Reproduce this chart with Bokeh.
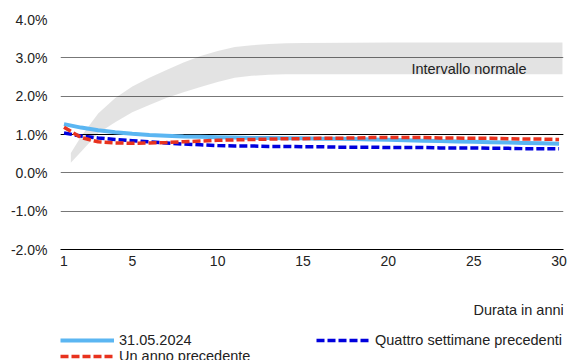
from bokeh.plotting import figure
from bokeh.layouts import column
from bokeh.models import (Range1d, Label, Legend, LegendItem, Span, FixedTicker,
                          CustomJSTickFormatter)
from bokeh.embed import file_html
from bokeh.resources import INLINE

# ---- data ----
years = list(range(1, 31))
curve_current = [1.27, 1.18, 1.11, 1.06, 1.02, 0.99, 0.97, 0.95, 0.94, 0.93,
                 0.92, 0.91, 0.91, 0.90, 0.90, 0.89, 0.89, 0.88, 0.87, 0.86,
                 0.85, 0.84, 0.83, 0.82, 0.81, 0.80, 0.79, 0.78, 0.77, 0.76]
curve_4weeks = [1.04, 0.96, 0.91, 0.87, 0.84, 0.81, 0.78, 0.75, 0.73, 0.71,
                0.70, 0.70, 0.69, 0.69, 0.68, 0.68, 0.67, 0.67, 0.67, 0.66,
                0.66, 0.66, 0.65, 0.65, 0.65, 0.64, 0.64, 0.63, 0.63, 0.63]
curve_1year = [1.19, 0.92, 0.81, 0.78, 0.77, 0.78, 0.79, 0.81, 0.83, 0.85,
               0.86, 0.87, 0.88, 0.89, 0.89, 0.90, 0.90, 0.91, 0.92, 0.92,
               0.92, 0.92, 0.91, 0.91, 0.90, 0.90, 0.89, 0.88, 0.88, 0.87]

band_years = [1.4, 2, 3, 4, 5, 6, 7, 8, 9, 10, 11, 12, 13, 14, 15, 20, 25, 30.2]
band_upper = [0.52, 0.95, 1.55, 1.95, 2.25, 2.48, 2.68, 2.88, 3.05, 3.18,
              3.28, 3.33, 3.36, 3.38, 3.39, 3.40, 3.40, 3.40]
band_lower = [0.26, 0.55, 1.03, 1.32, 1.58, 1.77, 1.95, 2.10, 2.24, 2.37,
              2.48, 2.53, 2.56, 2.57, 2.57, 2.57, 2.57, 2.57]

x_ticks = [1, 5, 10, 15, 20, 25, 30]
y_ticks = [-2, -1, 0, 1, 2, 3, 4]
highlight_level = 1.0

label_current = "31.05.2024"
label_4weeks = "Quattro settimane precedenti"
label_1year = "Un anno precedente"
band_label = "Intervallo normale"
x_title = "Durata in anni"

FONT = "Liberation Sans"
FS = "14px"
FS_T = "14.5px"
TXT = "#222222"
C_CUR, C_4W, C_1Y = "#5BB6F2", "#0000DD", "#E8321E"
DASH = "8 3"

W = 568
NAN = float("nan")

# ---------------- main chart ----------------
p = figure(width=W, height=290, output_backend="svg", toolbar_location=None,
           x_range=Range1d(0.795, 30.26), y_range=Range1d(-2, 4),
           min_border_left=60, min_border_right=5, min_border_top=19,
           min_border_bottom=41)
p.outline_line_color = None

p.varea(x=band_years, y1=band_lower, y2=band_upper, fill_color="black",
        fill_alpha=0.11)

p.add_layout(Span(location=highlight_level, dimension="width",
                  line_color="black", line_width=1, level="underlay"))

p.line(years, curve_current, line_color=C_CUR, line_width=4)
p.line(years, curve_4weeks, line_color=C_4W, line_width=3.5, line_dash=DASH)
p.line(years, curve_1year, line_color=C_1Y, line_width=3.5, line_dash=DASH)

p.xaxis.ticker = FixedTicker(ticks=x_ticks)
p.yaxis.ticker = FixedTicker(ticks=y_ticks)
p.yaxis.formatter = CustomJSTickFormatter(code="return tick.toFixed(1) + '%';")
for ax in (p.xaxis[0], p.yaxis[0]):
    ax.major_tick_line_color = None
    ax.minor_tick_line_color = None
    ax.major_tick_out = 0
    ax.major_tick_in = 0
    ax.major_label_text_font = FONT
    ax.major_label_text_font_size = FS
    ax.major_label_text_color = TXT
p.yaxis.axis_line_color = None
p.yaxis.major_label_standoff = 13
p.xaxis.axis_line_color = "black"
p.xaxis.major_label_standoff = 6

p.xgrid.visible = False
p.ygrid.ticker = FixedTicker(ticks=y_ticks)
p.ygrid.grid_line_color = "#777777"
p.ygrid.grid_line_width = 1

p.add_layout(Label(x=21.35, y=2.72, text=band_label, text_font=FONT,
                   text_font_size=FS_T, text_baseline="middle", text_align="left",
                   text_color=TXT))

# ---------------- footer: axis title + legend ----------------
# (its frame is aligned with the main frame, pixels 60..563)
f = figure(width=W, height=70, output_backend="svg", toolbar_location=None,
           x_range=Range1d(60, 563), y_range=Range1d(0, 70),
           x_axis_location=None, y_axis_location=None,
           min_border_left=60, min_border_right=5, min_border_top=0,
           min_border_bottom=0)
f.outline_line_color = None
f.xgrid.visible = False
f.ygrid.visible = False

f.add_layout(Label(x=473, y=51, text=x_title, text_font=FONT,
                   text_font_size=FS_T, text_baseline="middle", text_align="left",
                   text_color=TXT))

# legend proxies (no visible data)
k_cur = f.line(x=[NAN], y=[NAN], line_color=C_CUR, line_width=4)
k_4w = f.line(x=[NAN], y=[NAN], line_color=C_4W, line_width=3.5, line_dash=DASH)
k_1y = f.line(x=[NAN], y=[NAN], line_color=C_1Y, line_width=3.5, line_dash=DASH)


def make_legend(items, loc):
    return Legend(items=items, location=loc, orientation="vertical",
                  padding=0, margin=0, spacing=0, border_line_color=None,
                  background_fill_alpha=0, glyph_width=54, glyph_height=16,
                  label_height=16, label_standoff=5,
                  label_text_font=FONT, label_text_font_size=FS_T,
                  label_text_color=TXT)


f.add_layout(make_legend([LegendItem(label=label_current, renderers=[k_cur]),
                          LegendItem(label=label_1year, renderers=[k_1y])],
                         (0, -4)))
f.add_layout(make_legend([LegendItem(label=label_4weeks, renderers=[k_4w])],
                         (256, 12)))

layout = column(p, f, spacing=0)
open("out.html", "w").write(file_html(layout, INLINE))
